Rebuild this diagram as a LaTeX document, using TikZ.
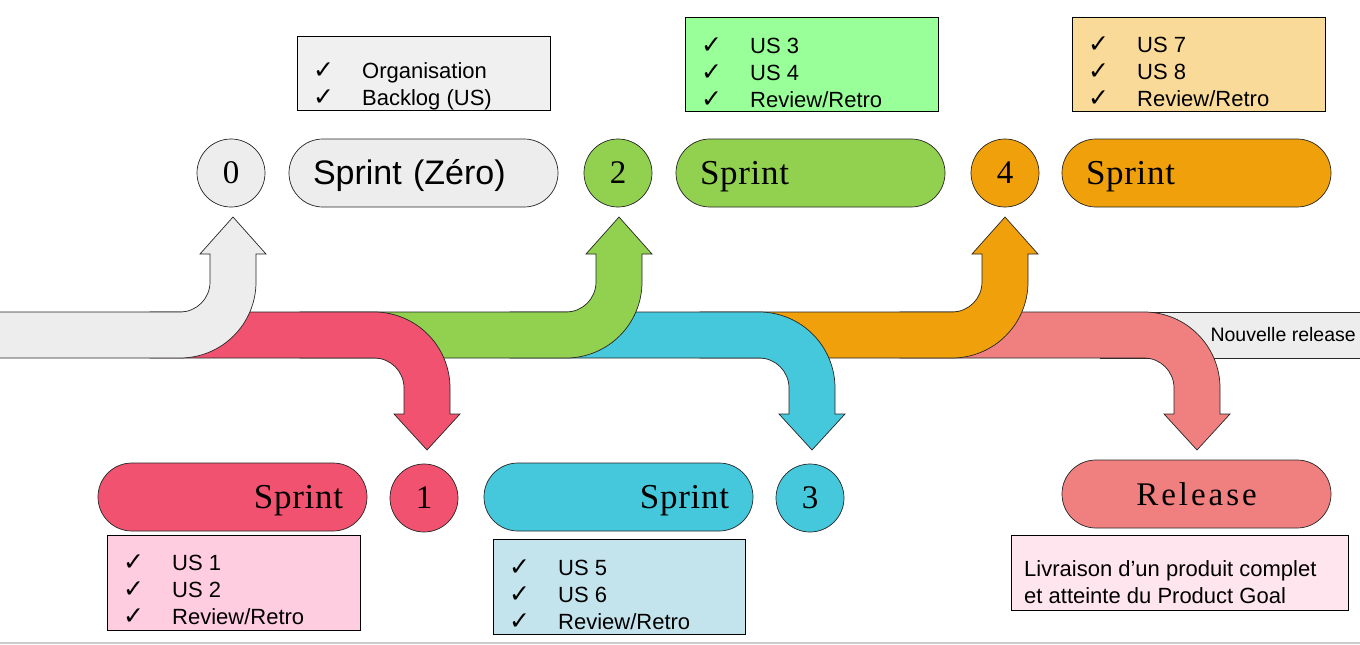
\documentclass[tikz,border=0pt]{standalone}
\usepackage{fontspec}
\setmainfont{Liberation Sans}
\newfontfamily\serifF{Liberation Serif}
\newfontfamily\spacedSerif{Liberation Serif}[LetterSpace=2]
\newfontfamily\spacedSerifB{Liberation Serif}[LetterSpace=9]
\newfontfamily\chkF{DejaVu Sans}
\usetikzlibrary{calc}
\definecolor{cgray}{HTML}{EDEDED}
\definecolor{cred}{HTML}{F0526F}
\definecolor{cgreen}{HTML}{92D050}
\definecolor{ccyan}{HTML}{45C8DB}
\definecolor{corange}{HTML}{F0A00A}
\definecolor{crel}{HTML}{F08080}
\definecolor{bgray}{HTML}{F0F0F0}
\definecolor{bgreen}{HTML}{99FF99}
\definecolor{borange}{HTML}{FADA98}
\definecolor{bpink}{HTML}{FFCCE0}
\definecolor{bcyan}{HTML}{C3E4EC}
\definecolor{brel}{HTML}{FFE6EE}
\newcommand\ChkMark{\makebox[49pt][l]{{\chkF\fontsize{25}{25}\selectfont ✓}}}
\newcommand\SprintTxt{\raisebox{-11pt}[0pt][0pt]{\spacedSerif\fontsize{35}{35}\selectfont Sprint}}
\newcommand\UpArr[3]{\draw[arrowshape, fill=#3] (#2,358) -- (#1,358) .. controls (#1+42,358) and (#1+76,324) .. (#1+76,282) -- (#1+76,254) -- (#1+86,254) -- (#1+53,217) -- (#1+20,254) -- (#1+30,254) -- (#1+30,282) .. controls (#1+30,298.6) and (#1+16.6,312) .. (#1,312) -- (#2,312) -- cycle;}
\newcommand\DownArr[3]{\draw[arrowshape, fill=#3] (#2,312) -- (#1,312) .. controls (#1+42,312) and (#1+76,346) .. (#1+76,388) -- (#1+76,414) -- (#1+86,414) -- (#1+53,450) -- (#1+20,414) -- (#1+30,414) -- (#1+30,388) .. controls (#1+30,371.4) and (#1+16.6,358) .. (#1,358) -- (#2,358) -- cycle;}
\tikzset{
  arrowshape/.style={draw=black!85, line width=0.7pt, line join=miter},
  numc/.style={circle, draw=black!85, line width=0.7pt, minimum size=68pt, inner sep=0pt, font=\serifF\fontsize{33}{33}\selectfont},
  pill/.style={rectangle, rounded corners=33.9pt, draw=black!85, line width=0.7pt, minimum height=68pt, inner xsep=24pt, inner ysep=0pt, text width=221pt},
  box/.style={rectangle, draw=black, line width=0.8pt, inner sep=0pt},
  list/.style={align=left, inner sep=0pt, font=\fontsize{22}{27}\selectfont, anchor=west},
  bandlabel/.style={inner sep=0pt, anchor=east, font=\fontsize{19.5}{19.5}\selectfont}
}
\begin{document}
\begin{tikzpicture}[x=1pt,y=-1pt]
\useasboundingbox (0,0) rectangle (1360,645);
% band and arrows, drawn from right to left
\draw[arrowshape, fill=cgray] (1100,312) -- (1363,312) -- (1363,358) -- (1100,358) -- cycle;
\node[bandlabel] (nr) at (1356,335) {Nouvelle release};
\DownArr{1144}{900}{crel}
\UpArr{952}{700}{corange}
\DownArr{759}{510}{ccyan}
\UpArr{566}{300}{cgreen}
\DownArr{374}{150}{cred}
\UpArr{180}{-5}{cgray}
% top row
\node[numc, fill=cgray] (n0) at (231,173) {0};
\node[pill, fill=cgray, align=left, font=\fontsize{34}{34}\selectfont] (p0) at (423.5,173) {\raisebox{-11.5pt}[0pt][0pt]{Sprint (Zéro)}};
\node[numc, fill=cgreen] (n2) at (618,173) {2};
\node[pill, fill=cgreen, align=left] (p2) at (810.5,173) {\SprintTxt};
\node[numc, fill=corange] (n4) at (1005,173) {4};
\node[pill, fill=corange, align=left] (p4) at (1196.5,173) {\SprintTxt};
% top boxes
\node[box, fill=bgray, minimum width=253pt, minimum height=74pt] (b0) at (423.5,73) {};
\node[list] (l0) at (313,86) {\ChkMark Organisation\\\ChkMark Backlog (US)};
\node[box, fill=bgreen, minimum width=253pt, minimum height=94pt] (b2) at (811.5,64) {};
\node[list] (l2) at (701,73) {\ChkMark US 3\\\ChkMark US 4\\\ChkMark Review/Retro};
\node[box, fill=borange, minimum width=253pt, minimum height=94pt] (b4) at (1198.5,64) {};
\node[list] (l4) at (1088,72) {\ChkMark US 7\\\ChkMark US 8\\\ChkMark Review/Retro};
% bottom row
\node[pill, fill=cred, align=right] (p1) at (232.5,497) {\SprintTxt};
\node[numc, fill=cred] (n1) at (424,498) {1};
\node[pill, fill=ccyan, align=right] (p3) at (618.5,497) {\SprintTxt};
\node[numc, fill=ccyan] (n3) at (810,498) {3};
\node[pill, fill=crel, align=center] (pr) at (1196.5,494) {{\spacedSerifB\fontsize{33}{33}\selectfont Release}};
% bottom boxes
\node[box, fill=bpink, minimum width=253pt, minimum height=95pt] (b1) at (233.5,582.5) {};
\node[list] (l1) at (123,590) {\ChkMark US 1\\\ChkMark US 2\\\ChkMark Review/Retro};
\node[box, fill=bcyan, minimum width=252pt, minimum height=95pt] (b3) at (619,586.5) {};
\node[list] (l3) at (509,595) {\ChkMark US 5\\\ChkMark US 6\\\ChkMark Review/Retro};
\node[box, fill=brel, minimum width=337pt, minimum height=75pt] (br) at (1179.5,572.5) {};
\node[list] (lr) at (1024,582) {Livraison d’un produit complet\\et atteinte du Product Goal};
% bottom rule
\draw[line width=2pt, black!20] (0,643) -- (1360,643);
\end{tikzpicture}
\end{document}
